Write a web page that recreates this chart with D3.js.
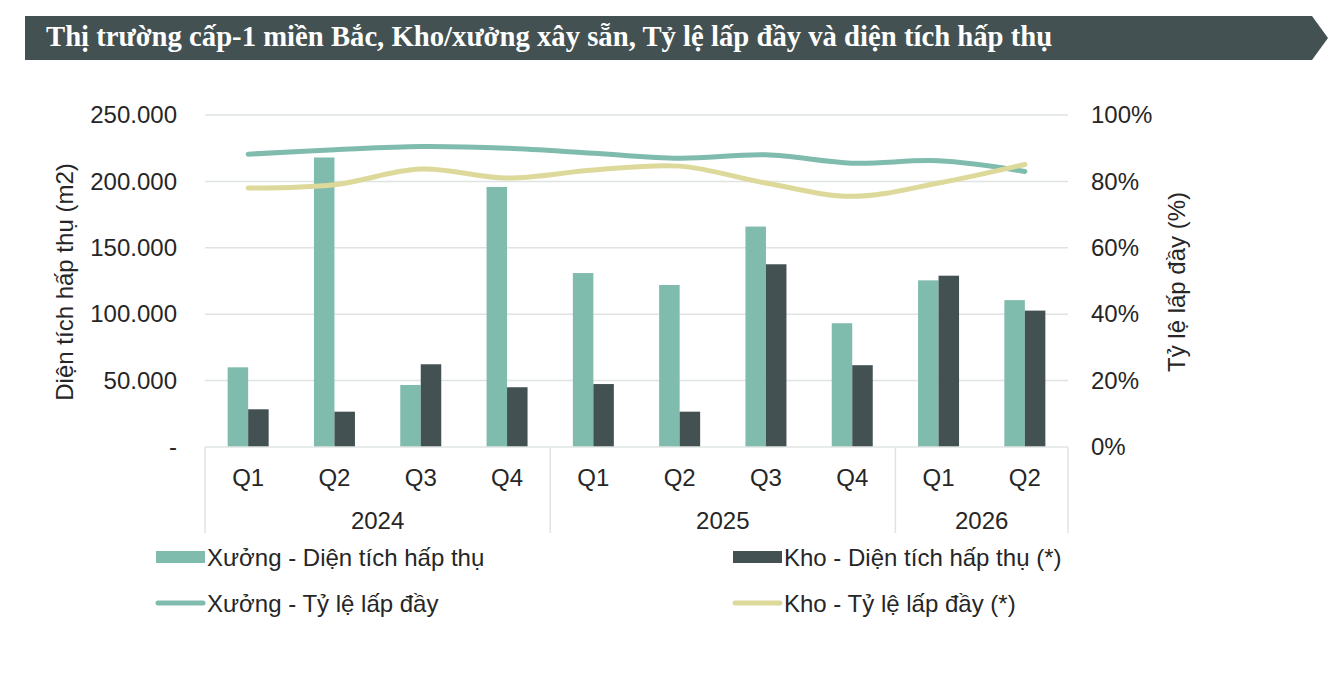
<!DOCTYPE html>
<html><head><meta charset="utf-8">
<script src="https://cdn.jsdelivr.net/npm/d3@7"></script>
<style>body{margin:0;background:#fff}svg{display:block}</style>
</head><body><svg id="c" width="1342" height="692"></svg>
<script>
const quarters = ["Q1","Q2","Q3","Q4","Q1","Q2","Q3","Q4","Q1","Q2"];
const years = ["2024","2024","2024","2024","2025","2025","2025","2025","2026","2026"];
const xuongArea = [60000,218000,46700,195800,131000,122000,166000,93200,125500,110600];
const khoArea = [28400,26600,62300,45000,47400,26600,137600,61600,129000,102700];
const xuongRate = [0.882,0.895,0.905,0.90,0.885,0.87,0.88,0.855,0.862,0.83];
const khoRate = [0.78,0.79,0.837,0.81,0.834,0.846,0.795,0.755,0.795,0.851];
const leftTicks = [0,50000,100000,150000,200000,250000];
const rightTicks = [0,0.2,0.4,0.6,0.8,1.0];

const C = {teal:"#80bcad", dark:"#435152", yellow:"#dcd99b", grid:"#dfe4e3", text:"#262626"};
const svg = d3.select("#c");
const font = "'Liberation Sans', Arial, sans-serif";
const FS = 24;

// Title banner
const bx0=25, bx1=1312, by0=16, by1=60, tip=1328;
svg.append("path").attr("d",`M${bx0},${by0}L${bx1},${by0}L${tip},${(by0+by1)/2}L${bx1},${by1}L${bx0},${by1}Z`).attr("fill",C.dark);
svg.append("text").attr("x",46).attr("y",46).attr("fill","#fff")
  .attr("font-family","'Liberation Serif','Times New Roman',serif").attr("font-weight","bold").attr("font-size",28.7)
  .text("Thị trường cấp-1 miền Bắc, Kho/xưởng xây sẵn, Tỷ lệ lấp đầy và diện tích hấp thụ");

const L=205, R=1068, T=115, B=447;
const idx = d3.range(quarters.length);
const x = d3.scaleBand().domain(idx).range([L,R]).paddingInner(0).paddingOuter(0);
const yL = d3.scaleLinear().domain([0,250000]).range([B,T]);
const yR = d3.scaleLinear().domain([0,1]).range([B,T]);

// gridlines
svg.append("g").selectAll("line").data(leftTicks.slice(1)).join("line")
  .attr("x1",L).attr("x2",R).attr("y1",d=>yL(d)).attr("y2",d=>yL(d))
  .attr("stroke",C.grid).attr("stroke-width",1.5);

// left axis
const gl = svg.append("g").attr("transform",`translate(${L},0)`)
  .call(d3.axisLeft(yL).tickValues(leftTicks).tickSize(0).tickPadding(28)
    .tickFormat(d=> d===0 ? "-" : d3.format(",")(d).replace(/,/g,".")));
gl.select(".domain").remove();
gl.selectAll("text").attr("font-family",font).attr("font-size",FS).attr("fill",C.text);

// right axis
const gr = svg.append("g").attr("transform",`translate(${R},0)`)
  .call(d3.axisRight(yR).tickValues(rightTicks).tickSize(0).tickPadding(23).tickFormat(d3.format(".0%")));
gr.select(".domain").remove();
gr.selectAll("text").attr("font-family",font).attr("font-size",FS).attr("fill",C.text);

// axis titles
svg.append("text").attr("transform",`translate(73,282) rotate(-90)`).attr("text-anchor","middle")
  .attr("font-family",font).attr("font-size",FS).attr("fill",C.text).text("Diện tích hấp thụ (m2)");
svg.append("text").attr("transform",`translate(1185,282) rotate(-90)`).attr("text-anchor","middle")
  .attr("font-family",font).attr("font-size",FS).attr("fill",C.text).text("Tỷ lệ lấp đầy (%)");

// bars
const bw = 20.5;
svg.append("g").selectAll("rect").data(idx).join("rect")
  .attr("x",i=>x(i)+x.bandwidth()/2-bw).attr("width",bw)
  .attr("y",i=>yL(xuongArea[i])).attr("height",i=>B-yL(xuongArea[i])).attr("fill",C.teal);
svg.append("g").selectAll("rect").data(idx).join("rect")
  .attr("x",i=>x(i)+x.bandwidth()/2).attr("width",bw)
  .attr("y",i=>yL(khoArea[i])).attr("height",i=>B-yL(khoArea[i])).attr("fill",C.dark);

// category axis
const axg = svg.append("g");
axg.append("line").attr("x1",L).attr("x2",R).attr("y1",B).attr("y2",B).attr("stroke",C.grid).attr("stroke-width",1.5);
const yearGroups = d3.groups(idx, i=>years[i]);
const seps = [L].concat(yearGroups.map(g=>x(g[1][g[1].length-1])+x.bandwidth()));
axg.selectAll(".sep").data(seps).join("line").attr("class","sep")
  .attr("x1",d=>d).attr("x2",d=>d).attr("y1",B).attr("y2",533).attr("stroke",C.grid).attr("stroke-width",1.5);
axg.selectAll(".q").data(idx).join("text").attr("class","q")
  .attr("x",i=>x(i)+x.bandwidth()/2).attr("y",486).attr("text-anchor","middle")
  .attr("font-family",font).attr("font-size",FS).attr("fill",C.text).text(i=>quarters[i]);
axg.selectAll(".yr").data(yearGroups).join("text").attr("class","yr")
  .attr("x",g=>(x(g[1][0])+x(g[1][g[1].length-1])+x.bandwidth())/2).attr("y",529).attr("text-anchor","middle")
  .attr("font-family",font).attr("font-size",FS).attr("fill",C.text).text(g=>g[0]);

// lines
const line = (arr)=>d3.line().x(i=>x(i)+x.bandwidth()/2).y(i=>yR(arr[i])).curve(d3.curveCatmullRom.alpha(0.5));
svg.append("path").datum(idx).attr("d",line(xuongRate)).attr("fill","none").attr("stroke",C.teal)
  .attr("stroke-width",5).attr("stroke-linecap","round");
svg.append("path").datum(idx).attr("d",line(khoRate)).attr("fill","none").attr("stroke",C.yellow)
  .attr("stroke-width",5).attr("stroke-linecap","round");

// legend
const leg = [
  {t:"Xưởng - Diện tích hấp thụ", c:C.teal, type:"rect", x:156, y:557},
  {t:"Kho - Diện tích hấp thụ (*)", c:C.dark, type:"rect", x:733, y:557},
  {t:"Xưởng - Tỷ lệ lấp đầy", c:C.teal, type:"line", x:156, y:603},
  {t:"Kho - Tỷ lệ lấp đầy (*)", c:C.yellow, type:"line", x:733, y:603}
];
const lg = svg.append("g").selectAll("g").data(leg).join("g").attr("transform",d=>`translate(${d.x},${d.y})`);
lg.filter(d=>d.type==="rect").append("rect").attr("x",0).attr("y",-6).attr("width",49).attr("height",12).attr("fill",d=>d.c);
lg.filter(d=>d.type==="line").append("line").attr("x1",2).attr("x2",47).attr("y1",0).attr("y2",0)
  .attr("stroke",d=>d.c).attr("stroke-width",5).attr("stroke-linecap","round");
lg.append("text").attr("x",51).attr("y",8.5).attr("font-family",font).attr("font-size",FS).attr("fill",C.text).text(d=>d.t);
</script></body></html>
